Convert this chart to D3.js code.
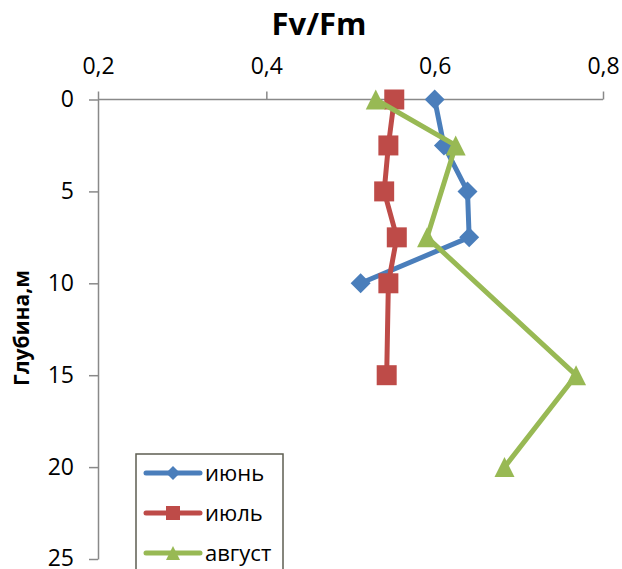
<!DOCTYPE html>
<html>
<head>
<meta charset="utf-8">
<title>Fv/Fm</title>
<script src="https://d3js.org/d3.v7.min.js"></script>
<style>
  body { margin: 0; background: #fff; }
  text { font-family: "Open Sans", sans-serif; fill: #000; }
  .axis path, .axis line { stroke: #898989; stroke-width: 1.5px; }
  .axis text { font-size: 23px; }
</style>
</head>
<body>
<svg width="622" height="569"></svg>
<script>
// data
var xTicks = [0.2, 0.4, 0.6, 0.8];
var yTicks = [0, 5, 10, 15, 20, 25];

var juneDepth = [0, 2.5, 5, 7.5, 10];
var juneFv = [0.600, 0.611, 0.639, 0.641, 0.512];

var julyDepth = [0, 2.5, 5, 7.5, 10, 15];
var julyFv = [0.552, 0.545, 0.540, 0.555, 0.545, 0.543];

var augDepth = [0, 2.5, 7.5, 15, 20];
var augFv = [0.530, 0.625, 0.591, 0.768, 0.683];

var seriesNames = ["июнь", "июль", "август"];

var svg = d3.select("svg");

var x = d3.scaleLinear().domain([0.2, 0.8]).range([98, 603]);
var y = d3.scaleLinear().domain([0, 25]).range([99.5, 559]);

var fmt = function(d) { return d3.format(".1f")(d).replace(".", ","); };

// axes
var xAxis = svg.append("g")
    .attr("class", "axis")
    .attr("transform", "translate(0," + y(0) + ")")
    .call(d3.axisTop(x).tickValues(xTicks).tickFormat(fmt).tickSize(8).tickSizeOuter(0).tickPadding(18));
xAxis.select(".domain").attr("d", "M" + x.range()[0] + ",0H" + x.range()[1]);

var yAxis = svg.append("g")
    .attr("class", "axis")
    .attr("transform", "translate(" + x(0.2) + ",0)")
    .call(d3.axisLeft(y).tickValues(yTicks).tickSize(9).tickSizeOuter(0).tickPadding(15));
yAxis.selectAll("text").attr("dy", "0.3em");

// titles
svg.append("text")
    .attr("x", 319).attr("y", 35)
    .attr("text-anchor", "middle")
    .style("font-size", "31px").style("font-weight", "bold")
    .text("Fv/Fm");

svg.append("text")
    .attr("transform", "translate(29,328) rotate(-90)")
    .attr("text-anchor", "middle")
    .style("font-size", "21px").style("font-weight", "bold")
    .text("Глубина,м");

// markers
function diamond(s) { return "M0," + (-s) + "L" + s + ",0L0," + s + "L" + (-s) + ",0Z"; }
function square(s) { return "M" + (-s) + "," + (-s) + "h" + (2 * s) + "v" + (2 * s) + "h" + (-2 * s) + "Z"; }
function triangle(s) { return "M0," + (-s) + "L" + s + "," + s + "L" + (-s) + "," + s + "Z"; }

var series = [
  { name: seriesNames[0], depth: juneDepth, fv: juneFv, color: "#4a7ebb", shape: diamond, size: 10 },
  { name: seriesNames[1], depth: julyDepth, fv: julyFv, color: "#be4b48", shape: square, size: 10 },
  { name: seriesNames[2], depth: augDepth, fv: augFv, color: "#98b954", shape: triangle, size: 10 }
];

var line = d3.line()
    .x(function(d) { return x(d[1]); })
    .y(function(d) { return y(d[0]); });

series.forEach(function(s) {
  var pts = d3.zip(s.depth, s.fv);
  var g = svg.append("g");
  g.append("path")
    .attr("d", line(pts))
    .attr("fill", "none")
    .attr("stroke", s.color)
    .attr("stroke-width", 5)
    .attr("stroke-linejoin", "round");
  g.selectAll("path.m")
    .data(pts)
    .enter().append("path")
    .attr("class", "m")
    .attr("transform", function(d) { return "translate(" + x(d[1]) + "," + y(d[0]) + ")"; })
    .attr("d", s.shape(s.size))
    .attr("fill", s.color);
});

// legend
var legend = svg.append("g");
legend.append("rect")
    .attr("x", 136).attr("y", 454)
    .attr("width", 147).attr("height", 130)
    .attr("fill", "#fff")
    .attr("stroke", "#5e5e52")
    .attr("stroke-width", 1.5);

series.forEach(function(s, i) {
  var ly = 473 + i * 40;
  legend.append("line")
    .attr("x1", 146).attr("x2", 200)
    .attr("y1", ly).attr("y2", ly)
    .attr("stroke", s.color).attr("stroke-width", 5)
    .attr("stroke-linecap", "round");
  legend.append("path")
    .attr("transform", "translate(173," + ly + ")")
    .attr("d", s.shape(7))
    .attr("fill", s.color);
  legend.append("text")
    .attr("x", 205).attr("y", ly)
    .attr("dy", "0.35em")
    .style("font-size", "22px")
    .text(s.name);
});
</script>
</body>
</html>
